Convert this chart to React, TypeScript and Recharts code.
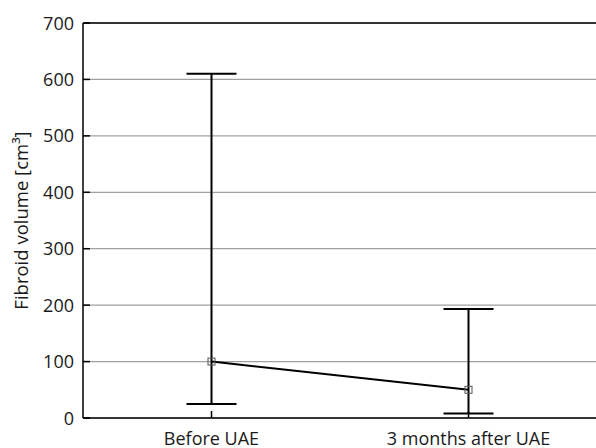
import React from 'react';
import { ComposedChart, Line, XAxis, YAxis, CartesianGrid, ErrorBar, ReferenceLine } from 'recharts';

const categories = ['Before UAE', '3 months after UAE'];
const medians = [100, 50];
const lows = [25, 8];
const highs = [610, 193];
const yTicks = [0, 100, 200, 300, 400, 500, 600, 700];

const data = categories.map((name, i) => ({
  name,
  median: medians[i],
  err: [medians[i] - lows[i], highs[i] - medians[i]],
}));

const FONT = "'Open Sans', sans-serif";
const TEXT = '#1a1a1a';

const XTick = (props: any) => {
  const { x, y, payload } = props;
  return (
    <g>
      <line x1={x} y1={y} x2={x} y2={y - 7} stroke="#000" strokeWidth={1.5} />
      <text x={x} y={y + 27} textAnchor="middle" fontFamily={FONT} fontSize={18} fill={TEXT}>
        {payload.value}
      </text>
    </g>
  );
};

const YTickLeft = (props: any) => {
  const { x, y, payload } = props;
  return (
    <g>
      <line x1={x} y1={y} x2={x + 7} y2={y} stroke="#000" strokeWidth={1.5} />
      <text x={x - 9} y={y + 6.5} textAnchor="end" fontFamily={FONT} fontSize={18} fill={TEXT}>
        {payload.value}
      </text>
    </g>
  );
};

const YTickRight = (props: any) => {
  const { x, y } = props;
  return <line x1={x} y1={y} x2={x - 7} y2={y} stroke="#000" strokeWidth={1.5} />;
};

const Square = (props: any) => {
  const { cx, cy } = props;
  if (cx == null || cy == null) return null;
  return <rect x={cx - 3.5} y={cy - 3.5} width={7} height={7} fill="none" stroke="#555" strokeWidth={1} />;
};

const YLabel = (props: any) => {
  const vb = props.viewBox || {};
  const cy = (vb.y ?? 23) + (vb.height ?? 395) / 2;
  const cx = 20;
  return (
    <text x={cx} y={cy} transform={`rotate(-90 ${cx} ${cy})`} textAnchor="middle" dominantBaseline="central"
      fontFamily={FONT} fontSize={18.5} fill={TEXT}>
      Fibroid volume [cm³]
    </text>
  );
};

export default function App() {
  return (
    <div style={{ position: 'fixed', left: 0, top: 0, width: 596, height: 448, overflow: 'hidden', background: '#fff' }}>
      <ComposedChart width={597} height={448} data={data} margin={{ top: 23, right: 0, bottom: 0, left: 0 }}
        style={{ fontFamily: FONT }}>
        <CartesianGrid yAxisId="l" vertical={false} stroke="#a0a0a0" strokeWidth={1.2} />
        <XAxis dataKey="name" scale="band" height={30} tickSize={0} tickMargin={0}
          axisLine={{ stroke: '#000', strokeWidth: 1.5 }} tickLine={false} tick={<XTick />} interval={0} />
        <YAxis yAxisId="l" domain={[0, 700]} ticks={yTicks} width={83} tickSize={0} tickMargin={0}
          axisLine={{ stroke: '#000', strokeWidth: 1.5 }} tickLine={false} tick={<YTickLeft />}
          label={<YLabel />} />
        <YAxis yAxisId="r" orientation="right" domain={[0, 700]} ticks={yTicks} width={0} tickSize={0} tickMargin={0}
          axisLine={{ stroke: '#000', strokeWidth: 1.5 }} tickLine={false} tick={<YTickRight />} />
        <ReferenceLine yAxisId="l" y={700} stroke="#000" strokeWidth={1.5} />
        <Line yAxisId="l" dataKey="median" stroke="#000" strokeWidth={2} dot={<Square />} activeDot={false}
          isAnimationActive={false}>
          <ErrorBar dataKey="err" width={25} stroke="#000" strokeWidth={2} direction="y" />
        </Line>
      </ComposedChart>
    </div>
  );
}
